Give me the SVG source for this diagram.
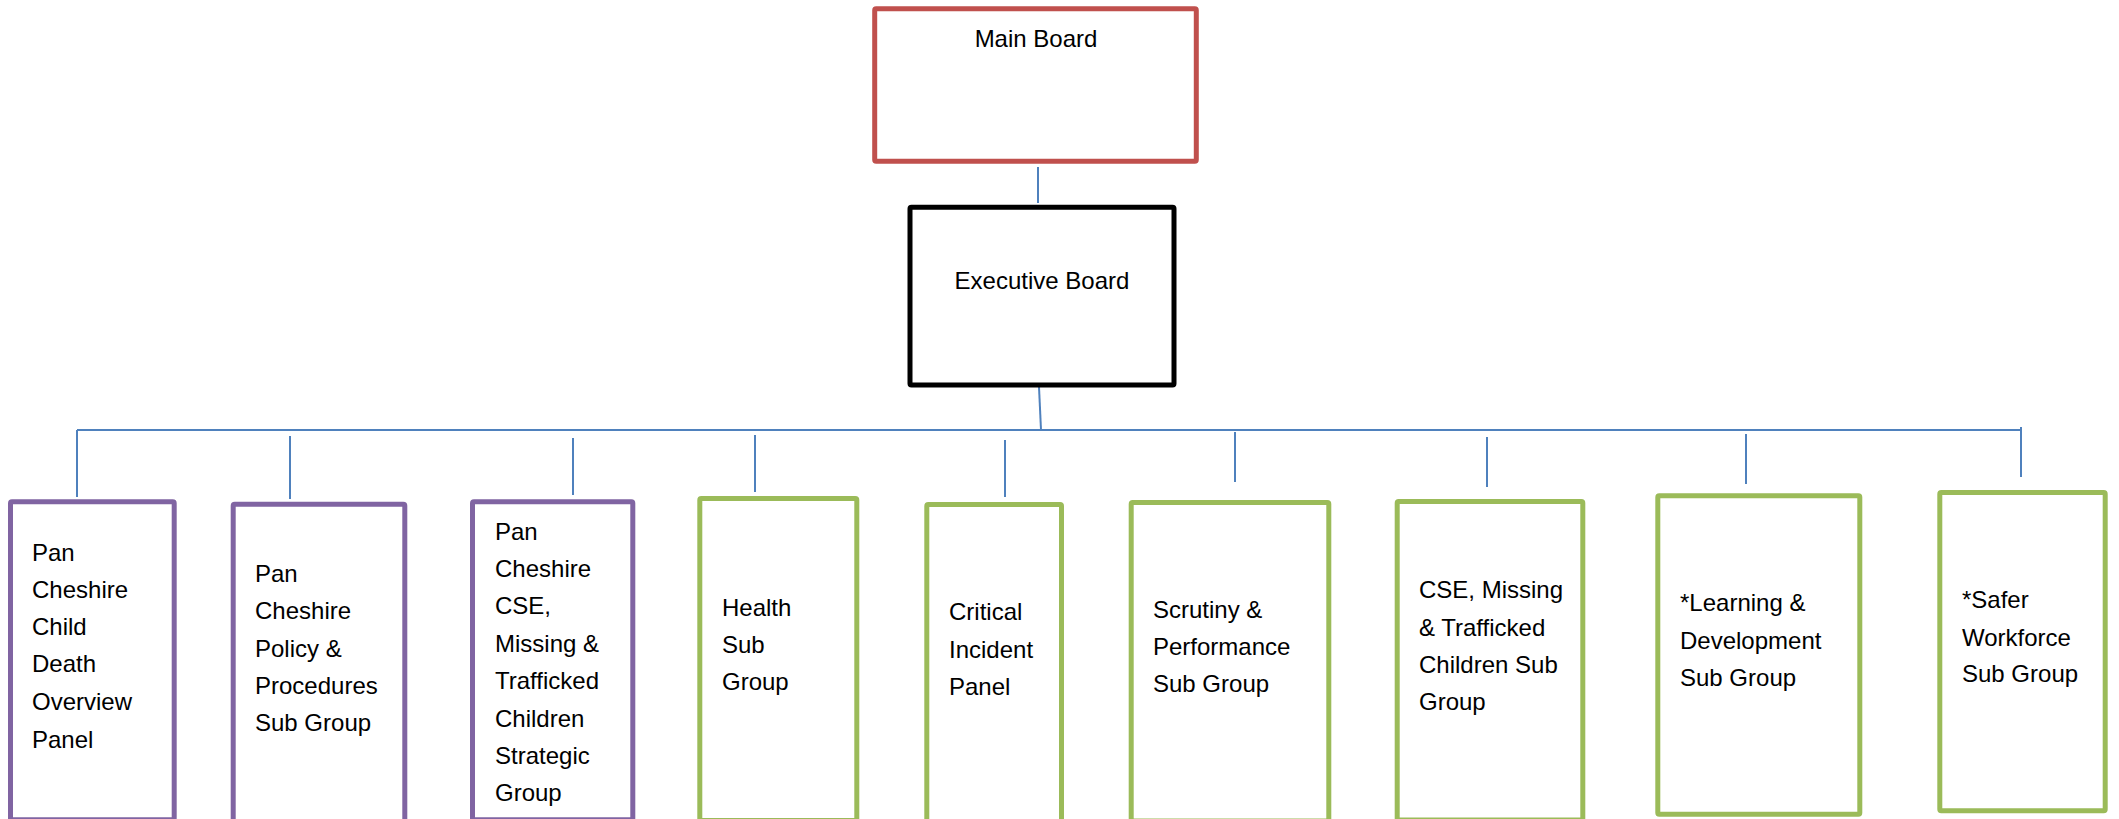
<svg xmlns="http://www.w3.org/2000/svg" width="2119" height="819" viewBox="0 0 2119 819">
<style>
  .box { fill: #ffffff; stroke-width: 5; stroke-linejoin: round; }
  .red { stroke: #C0504D; }
  .black { stroke: #000000; }
  .purple { stroke: #8064A2; }
  .green { stroke: #9BBB59; }
  .conn { stroke: #4F81BD; stroke-width: 2; fill: none; }
  text { font-family: "Liberation Sans", Arial, sans-serif; font-size: 24px; fill: #000000; }
  .mid { text-anchor: middle; }
</style>
<rect width="2119" height="819" fill="#ffffff"/>
<g id="connectors">
  <line class="conn" x1="1038" y1="167" x2="1038" y2="203"/>
  <line class="conn" x1="1039" y1="387" x2="1041" y2="430"/>
  <line class="conn" x1="77" y1="430" x2="2021" y2="430"/>
  <line class="conn" x1="77" y1="430" x2="77" y2="497"/>
  <line class="conn" x1="290" y1="436" x2="290" y2="499"/>
  <line class="conn" x1="573" y1="438" x2="573" y2="495"/>
  <line class="conn" x1="755" y1="435" x2="755" y2="492"/>
  <line class="conn" x1="1005" y1="440" x2="1005" y2="497"/>
  <line class="conn" x1="1235" y1="432" x2="1235" y2="482"/>
  <line class="conn" x1="1487" y1="437" x2="1487" y2="487"/>
  <line class="conn" x1="1746" y1="434" x2="1746" y2="484"/>
  <line class="conn" x1="2021" y1="427" x2="2021" y2="477"/>
</g>
<g id="main-board">
  <rect class="box red" x="874.7" y="8.7" width="321.6" height="152.6" rx="1.5"/>
  <text class="mid" x="1036" y="47">Main Board</text>
</g>
<g id="executive-board">
  <rect class="box black" x="910" y="207.3" width="264" height="177.7" rx="1.5"/>
  <text class="mid" x="1042" y="289">Executive Board</text>
</g>
<g id="pan-cheshire-cdop">
  <rect class="box purple" x="10.5" y="501.8" width="163.7" height="318" rx="1.5"/>
  <text x="32" y="561">Pan</text>
  <text x="32" y="598">Cheshire</text>
  <text x="32" y="635">Child</text>
  <text x="32" y="672">Death</text>
  <text x="32" y="710">Overview</text>
  <text x="32" y="748">Panel</text>
</g>
<g id="pan-cheshire-policy">
  <rect class="box purple" x="233.2" y="504.2" width="171.6" height="330" rx="1.5"/>
  <text x="255" y="582">Pan</text>
  <text x="255" y="619">Cheshire</text>
  <text x="255" y="657">Policy &amp;</text>
  <text x="255" y="694">Procedures</text>
  <text x="255" y="731">Sub Group</text>
</g>
<g id="pan-cheshire-cse">
  <rect class="box purple" x="472.5" y="501.8" width="160.3" height="318" rx="1.5"/>
  <text x="495" y="540">Pan</text>
  <text x="495" y="577">Cheshire</text>
  <text x="495" y="614">CSE,</text>
  <text x="495" y="652">Missing &amp;</text>
  <text x="495" y="689">Trafficked</text>
  <text x="495" y="727">Children</text>
  <text x="495" y="764">Strategic</text>
  <text x="495" y="801">Group</text>
</g>
<g id="health-sub-group">
  <rect class="box green" x="699.8" y="498.5" width="157" height="322" rx="1.5"/>
  <text x="722" y="616">Health</text>
  <text x="722" y="653">Sub</text>
  <text x="722" y="690">Group</text>
</g>
<g id="critical-incident-panel">
  <rect class="box green" x="926.8" y="504.5" width="134.7" height="330" rx="1.5"/>
  <text x="949" y="620">Critical</text>
  <text x="949" y="658">Incident</text>
  <text x="949" y="695">Panel</text>
</g>
<g id="scrutiny-performance">
  <rect class="box green" x="1131.2" y="502.5" width="197.6" height="318.5" rx="1.5"/>
  <text x="1153" y="618">Scrutiny &amp;</text>
  <text x="1153" y="655">Performance</text>
  <text x="1153" y="692">Sub Group</text>
</g>
<g id="cse-missing-trafficked">
  <rect class="box green" x="1397.2" y="501.5" width="185.6" height="318.5" rx="1.5"/>
  <text x="1419" y="598">CSE, Missing</text>
  <text x="1419" y="636">&amp; Trafficked</text>
  <text x="1419" y="673">Children Sub</text>
  <text x="1419" y="710">Group</text>
</g>
<g id="learning-development">
  <rect class="box green" x="1657.8" y="495.8" width="202" height="318.4" rx="1.5"/>
  <text x="1680" y="611">*Learning &amp;</text>
  <text x="1680" y="649">Development</text>
  <text x="1680" y="686">Sub Group</text>
</g>
<g id="safer-workforce">
  <rect class="box green" x="1939.8" y="492.5" width="165.4" height="318.3" rx="1.5"/>
  <text x="1962" y="608">*Safer</text>
  <text x="1962" y="646">Workforce</text>
  <text x="1962" y="682">Sub Group</text>
</g>
</svg>
